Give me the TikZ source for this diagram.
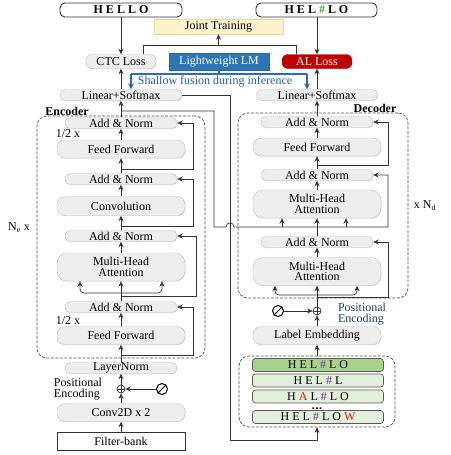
\documentclass[tikz,border=0pt]{standalone}
\usepackage{fontspec}
\setmainfont{Liberation Serif}
\usetikzlibrary{arrows.meta,shadows,calc}
\definecolor{linec}{HTML}{333333}
\definecolor{pillfill}{HTML}{EEEEEE}
\definecolor{pillborder}{HTML}{BEBEBE}
\definecolor{jtfill}{HTML}{FFF2CC}
\definecolor{jtborder}{HTML}{E5D3A1}
\definecolor{lmblue}{HTML}{2E75B6}
\definecolor{lmdark}{HTML}{2A65A0}
\definecolor{alred}{HTML}{C00000}
\definecolor{aldark}{HTML}{900000}
\definecolor{fusionblue}{HTML}{1F5F9F}
\definecolor{bluel}{HTML}{2E6BB0}
\definecolor{hashgreen}{HTML}{5B9B2F}
\definecolor{hashpurple}{HTML}{7030A0}
\definecolor{wred}{HTML}{D81E1E}
\definecolor{hypdark}{HTML}{A9D18E}
\definecolor{hyplight}{HTML}{E2EFDA}
\definecolor{navy}{HTML}{1F3864}
\begin{document}
\begin{tikzpicture}[x=1pt,y=-1pt,
  font=\fontsize{12}{10.5}\selectfont,
  pill/.style={draw=pillborder, fill=pillfill, rounded corners=5pt, inner sep=0pt, align=center,
    minimum width=112, minimum height=11,
    drop shadow={shadow xshift=0.5pt,shadow yshift=-0.7pt,opacity=0.25}},
  pillb/.style={pill, rounded corners=8pt, minimum width=128, minimum height=18},
  pillc/.style={pill, rounded corners=10pt, minimum width=128, minimum height=28},
  topbox/.style={draw=linec, line width=0.9pt, rounded corners=5pt, fill=white, inner sep=0pt,
    minimum width=122, minimum height=14},
  hypbox/.style={draw=black!65, line width=0.7pt, rounded corners=3pt, inner sep=0pt,
    minimum width=131, minimum height=13},
  dashbox/.style={draw=black!70, line width=0.7pt, dash pattern=on 3pt off 1.5pt, rounded corners=10pt, inner sep=0pt},
  ln/.style={draw=linec, line width=0.7pt},
  arr/.style={ln, -{Stealth[length=5.5pt,width=5pt]}},
  blueln/.style={draw=bluel, line width=1.3pt},
  bluearr/.style={blueln, -{Stealth[length=6pt,width=6pt]}},
  oplus/.style={circle, draw=linec, line width=0.7pt, minimum size=8pt, inner sep=0pt},
  ozero/.style={circle, draw=black, line width=1pt, minimum size=11pt, inner sep=0pt},
  lbl/.style={font=\fontsize{12}{11}\selectfont, inner sep=0pt},
  boldlbl/.style={font=\fontsize{12}{12}\selectfont\bfseries, inner sep=0pt}]
\useasboundingbox (0,0) rectangle (450,455);

% ---------- containers ----------
\node[dashbox, minimum width=168, minimum height=242] (encbox) at (121,237) {};
\node[dashbox, minimum width=170, minimum height=185] (decbox) at (323,205.5) {};
\node[dashbox, minimum width=156, minimum height=71] (hyp) at (317,391.5) {};

% ---------- top ----------
\node[topbox] (hello) at (121,10) {\textbf{H E L L O}};
\node[topbox, minimum width=121] (hel) at (316.5,10) {\textbf{H E L \textcolor{hashgreen}{\#} L O}};
\node[draw=jtborder, fill=jtfill, minimum width=129, minimum height=15, inner sep=0pt] (jt) at (218.5,26.5) {Joint Training};
\node[pill, minimum width=70, minimum height=14, rounded corners=6pt] (ctc) at (121,61.5) {CTC Loss};
\node[fill=lmblue, draw=lmdark, text=white, minimum width=100, minimum height=17, inner sep=0pt] (lm) at (219,61.5) {Lightweight LM};
\node[fill=alred, draw=aldark, text=white, rounded corners=6pt, minimum width=70, minimum height=14, inner sep=0pt] (al) at (317,61.5) {AL Loss};
\node[pill, minimum width=122] (lsl) at (121,95) {Linear+Softmax};
\node[pill, minimum width=121] (lsr) at (317,95) {Linear+Softmax};
\node[text=fusionblue, inner sep=0pt] (sf) at (215,82) {Shallow fusion during inference};

% ---------- encoder ----------
\node[pill] (ean1) at (121,123) {Add \& Norm};
\node[pillb] (eff1) at (121,149) {Feed Forward};
\node[pill] (ean2) at (121,179) {Add \& Norm};
\node[pillb, minimum height=19] (econv) at (121,206) {Convolution};
\node[pill] (ean3) at (121,236) {Add \& Norm};
\node[pillc] (emha) at (121,267) {Multi-Head\\Attention};
\node[pill] (ean4) at (121,307) {Add \& Norm};
\node[pillb] (eff2) at (121,335.5) {Feed Forward};
\node[pill, minimum height=11] (eln) at (121,368) {LayerNorm};
\node[oplus] (ep) at (121,389) {};
\node[ozero] (ez) at (162,389) {};
\node[pillb] (ec2d) at (121,412.5) {Conv2D x 2};
\node[draw=linec, line width=0.9pt, fill=white, minimum width=128, minimum height=18, inner sep=0pt] (fb) at (121,441) {Filter-bank};

\node[boldlbl] (enclbl) at (67,111) {Encoder};
\node[lbl] (half1) at (68,134) {1/2 x};
\node[lbl] (half2) at (68,321) {1/2 x};
\node[lbl] (ne) at (19,228) {N\textsubscript{e} x};
\node[lbl, align=left] (pel) at (78,389) {Positional\\Encoding};

% ---------- decoder ----------
\node[pill] (dan1) at (317,122) {Add \& Norm};
\node[pillb] (dff) at (317,147) {Feed Forward};
\node[pill] (dan2) at (317,175) {Add \& Norm};
\node[pillc] (dmha1) at (317,204) {Multi-Head\\Attention};
\node[pill] (dan3) at (317,242) {Add \& Norm};
\node[pillc] (dmha2) at (317,271.5) {Multi-Head\\Attention};
\node[oplus] (dp) at (317,311) {};
\node[ozero] (dz) at (278,311) {};
\node[pillb] (le) at (317,335.5) {Label Embedding};

\node[boldlbl] (declbl) at (375,108) {Decoder};
\node[lbl] (nd) at (425,206) {x N\textsubscript{d}};
\node[lbl, align=left, text=navy] (ped) at (362,314) {Positional\\Encoding};

\node[hypbox, fill=hypdark] (h1) at (318,365) {H E L \textcolor{hashpurple}{\#} L O};
\node[hypbox, fill=hyplight] (h2) at (318,380.5) {H E L \textcolor{hashpurple}{\#} L};
\node[hypbox, fill=hyplight] (h3) at (318,396.5) {H \textcolor{wred}{A} L \textcolor{hashpurple}{\#} L O};
\node[inner sep=0pt, anchor=base, font=\fontsize{12}{12}\selectfont\bfseries] (dots) at (317,409.5) {.\kern0.6pt.\kern0.6pt.};
\node[hypbox, fill=hyplight] (h4) at (318,417) {H E L \textcolor{hashpurple}{\#} L O \textcolor{wred}{W}};

% ---------- symbols ----------
\draw[linec, line width=0.7pt] (ep.north) -- (ep.south) (ep.west) -- (ep.east);
\draw[linec, line width=0.7pt] (dp.north) -- (dp.south) (dp.west) -- (dp.east);
\draw[black, line width=1pt] (ez.south west) -- (ez.north east);
\draw[black, line width=1pt] (dz.south west) -- (dz.north east);

% ---------- top connectors ----------
\draw[arr] (hello) -- (ctc);
\draw[arr] (hel.south -| al.north) -- (al.north);
\draw[arr] (lsl) -- (ctc);
\draw[arr] (lsr) -- (al);
\coordinate (jl) at (143,45);
\coordinate (jr) at (296,45);
\draw[ln] (jl |- ctc.north) -- (jl) -- (jr) -- (jr |- al.north);
\draw[arr] (jt.south |- jl) -- (jt.south);
\coordinate (bl) at (131,74);
\coordinate (br) at (307,74);
\draw[blueln] (lm.south) -- (lm.south |- bl);
\draw[blueln] (bl) -- (br);
\draw[bluearr] (bl) -- (bl |- lsl.north);
\draw[bluearr] (br) -- (br |- lsr.north);

% ---------- encoder connectors ----------
\draw[arr] (fb) -- (ec2d);
\draw[arr] (ec2d) -- (ep);
\draw[arr] (ez) -- (ep);
\draw[arr] (ep) -- (eln);
\draw[arr] (eln) -- (eff2);
\draw[arr] (eff2) -- (ean4);
\draw[arr] (ean4) -- (emha);
\draw[arr, rounded corners=4pt] (121,293) -| ($(emha.south)+(-41,0)$);
\draw[arr, rounded corners=4pt] (121,293) -| ($(emha.south)+(41,0)$);
\draw[arr] (emha) -- (ean3);
\draw[arr] (ean3) -- (econv);
\draw[arr] (econv) -- (ean2);
\draw[arr] (ean2) -- (eff1);
\draw[arr] (eff1) -- (ean1);
\draw[arr] (ean1) -- (lsl);
\draw[arr] (121,355) -| ($(ean4.east)+(16,0)$) -- (ean4.east);
\draw[arr] (121,296.5) -| ($(ean3.east)+(19,0)$) -- (ean3.east);
\draw[arr] (121,226) -| ($(ean2.east)+(16,0)$) -- (ean2.east);
\draw[arr] (121,169) -| ($(ean1.east)+(16,0)$) -- (ean1.east);

% encoder output to decoder cross attention
\coordinate (rx) at (388,227);
\draw[arr] (121,111) -- (214,111) -- (214,227) -- (226,227)
  .. controls (226,221.5) and (234,221.5) .. (234,227)
  -- (rx) -- (rx |- dan2.east) -- (dan2.east);
\draw[arr] (282,227) -- ($(dmha1.south)+(-35,0)$);
\draw[arr] (346,227) -- ($(dmha1.south)+(29,0)$);

% CTC branch to hypotheses
\draw[arr] (lsl.east) -- (230,95) -- (230,440) -- (317,440) -- (hyp.south);

% ---------- decoder connectors ----------
\draw[arr] (hyp) -- (le);
\draw[arr] (le) -- (dp);
\draw[arr] (dz) -- (dp);
\draw[arr] (dp) -- (dmha2);
\draw[arr, rounded corners=4pt] (317,295) -| ($(dmha2.south)+(-42,0)$);
\draw[arr, rounded corners=4pt] (317,295) -| ($(dmha2.south)+(40,0)$);
\draw[arr] (317,297.5) -| ($(dan3.east)+(15,0)$) -- (dan3.east);
\draw[arr] (dmha2) -- (dan3);
\draw[arr] (dan3) -- (dmha1);
\draw[arr] (dmha1) -- (dan2);
\draw[arr] (dan2) -- (dff);
\draw[arr] (dff) -- (dan1);
\draw[arr] (317,165) -| ($(dan1.east)+(15,0)$) -- (dan1.east);
\draw[arr] (dan1) -- (lsr);
\end{tikzpicture}
\end{document}
